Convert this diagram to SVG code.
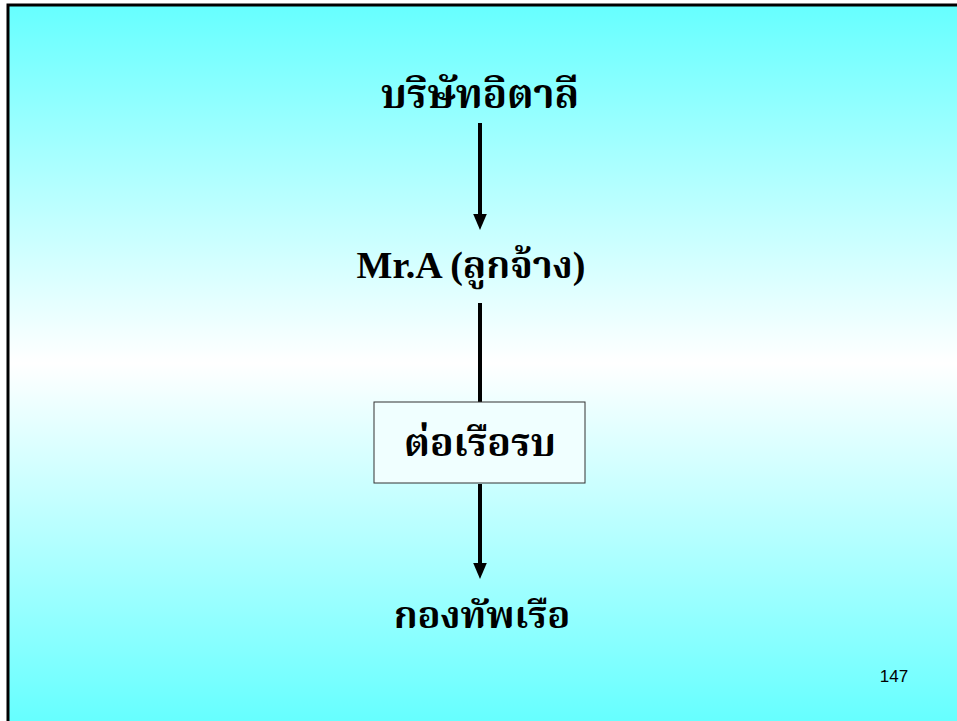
<svg xmlns="http://www.w3.org/2000/svg" width="957" height="721" viewBox="0 0 957 721">
<defs>
<linearGradient id="bg" x1="0" y1="0" x2="0" y2="1">
<stop offset="0" stop-color="#66FFFF"/>
<stop offset="0.5" stop-color="#FFFFFF"/>
<stop offset="1" stop-color="#66FFFF"/>
</linearGradient>
<marker id="arr" markerWidth="4" markerHeight="4" refX="2" refY="2" orient="auto" markerUnits="strokeWidth" viewBox="0 0 4 4">
<path d="M0,0.3 L4,2 L0,3.7 z" fill="#000"/>
</marker>
<style>
.t{font-family:"Liberation Serif","Noto Serif Thai","Noto Sans Thai",serif;font-weight:bold;font-size:40px;fill:#000;text-anchor:middle}
.c{stroke:#000;stroke-width:4;fill:none}
</style>
</defs>
<rect x="0" y="0" width="957" height="721" fill="#fff"/>
<rect x="8" y="5" width="949" height="716" fill="url(#bg)"/>
<path d="M8,721 V5 H957" fill="none" stroke="#000" stroke-width="3"/>
<g id="connectors">
<line class="c" x1="480" y1="123" x2="480" y2="222" marker-end="url(#arr)"/>
<line class="c" x1="480" y1="303" x2="480" y2="402"/>
<line class="c" x1="480" y1="484" x2="480" y2="571" marker-end="url(#arr)"/>
</g>
<g id="n1"><text class="t" x="480" y="108">บริษัทอิตาลี</text></g>
<g id="n2"><text class="t" x="471" y="278" style="font-size:38px">Mr.A (ลูกจ้าง)</text></g>
<g id="n3"><rect x="374" y="402" width="211" height="81" fill="#F0FFFF" stroke="#333" stroke-width="1"/><text class="t" x="480" y="456" style="font-size:39px">ต่อเรือรบ</text></g>
<g id="n4"><text class="t" x="482" y="628" style="font-size:38px">กองทัพเรือ</text></g>
<text x="894" y="682" font-family="Liberation Sans, Arial, sans-serif" font-size="17" text-anchor="middle">147</text>
</svg>
